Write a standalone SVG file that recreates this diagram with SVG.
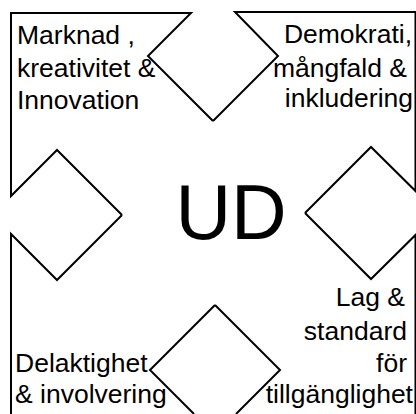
<svg xmlns="http://www.w3.org/2000/svg" width="416" height="414" viewBox="0 0 416 414">
<style>
.s{fill:none;stroke:#000;stroke-width:2;stroke-linejoin:miter}
.t{font-family:"Liberation Sans",Arial,sans-serif;font-size:26.5px;fill:#000}
.e{text-anchor:end}
.c{font-family:"Liberation Sans",Arial,sans-serif;font-size:77px;fill:#000;text-anchor:middle}
</style>
<rect width="416" height="414" fill="#fff"/>
<g id="marknad">
<path class="s" d="M213,121 L148,56 L191,13 L11,13 L11,196 L57,150 L122,215"/>
<text class="t" x="17" y="44">Marknad ,</text>
<text class="t" x="17" y="77">kreativitet &amp;</text>
<text class="t" x="17" y="109">Innovation</text>
</g>
<g id="demokrati">
<path class="s" d="M213,121 L278,56 L235,12 L415.5,12 L415.5,191 L371,147 L305,213"/>
<text class="t e" x="412" y="43">Demokrati,</text>
<text class="t e" x="407" y="77">mångfald &amp;</text>
<text class="t e" x="413" y="107">inkludering</text>
</g>
<g id="lag">
<path class="s" d="M305,213 L371,279 L415.5,235 L415.5,414 M215,305 L280,370 L236,414"/>
<text class="t e" x="405" y="306">Lag &amp;</text>
<text class="t e" x="407" y="340">standard</text>
<text class="t e" x="407" y="372">för</text>
<text class="t e" x="413" y="403">tillgänglighet</text>
</g>
<g id="delaktighet">
<path class="s" d="M122,215 L57,280 L11,234 L11,414 M215,305 L150,370 L194,414"/>
<text class="t" x="15" y="372">Delaktighet</text>
<text class="t" x="15" y="403">&amp; involvering</text>
</g>
<g id="ud">
<text class="c" x="231" y="239">UD</text>
</g>
</svg>
